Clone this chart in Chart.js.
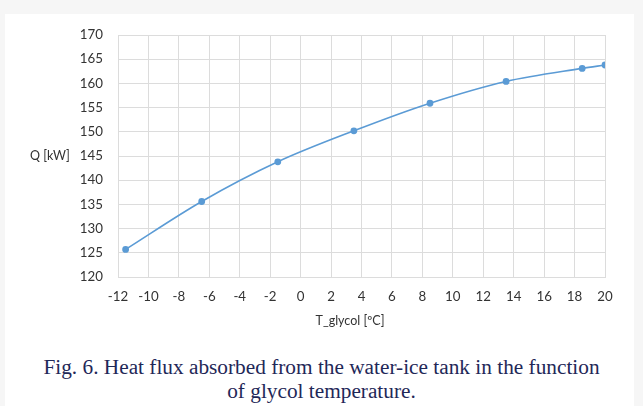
<!DOCTYPE html>
<html>
<head>
<meta charset="utf-8">
<script src="https://cdn.jsdelivr.net/npm/chart.js@4/dist/chart.umd.min.js"></script>
<style>
  body { margin: 0; width: 643px; height: 406px; background: #f6f6f6; overflow: hidden; position: relative; }
  #panel { position: absolute; left: 5px; top: 14px; width: 629px; height: 392px; background: #fff; }
  #chart { position: absolute; left: 0; top: 0; }
  .axt { position: absolute; font-family: Lato, sans-serif; color: #333; white-space: nowrap; }
  #ytitle { left: 30px; top: 148px; font-size: 12.5px; }
  #xtitle { left: 0; width: 700px; top: 313px; font-size: 12.5px; text-align: center; }
  #caption { position: absolute; left: 0; width: 643px; top: 355px; text-align: center;
    font-family: "Liberation Serif", "Times New Roman", serif; font-size: 21.3px; line-height: 24px; color: #1f2858; }
</style>
</head>
<body>
<div id="panel"></div>
<canvas id="chart" width="643" height="340"></canvas>
<div class="axt" id="ytitle">Q [kW]</div>
<div class="axt" id="xtitle">T_glycol [ºC]</div>
<div id="caption">Fig. 6. Heat flux absorbed from the water-ice tank in the function<br>of glycol temperature.</div>
<script>
var tGlycol = [-11.5, -6.5, -1.5, 3.5, 8.5, 13.5, 18.5, 20];
var heatQ = [125.7, 135.6, 143.8, 150.2, 155.9, 160.4, 163.1, 163.8];
var xRange = [-12, 20, 2];
var yRange = [120, 170, 5];

var points = [];
for (var i = 0; i < tGlycol.length; i++) {
	points.push({x: tGlycol[i], y: heatQ[i]});
}

var gridColor = '#dcdcdc';
var tickFont = {family: 'Lato', size: 13.3};

new Chart(document.getElementById('chart'), {
	type: 'scatter',
	data: {
		datasets: [{
			label: 'Q',
			data: points,
			showLine: true,
			borderColor: '#5b9bd5',
			backgroundColor: '#5b9bd5',
			borderWidth: 1.6,
			pointRadius: 2.6,
			pointHoverRadius: 3,
			cubicInterpolationMode: 'monotone'
		}]
	},
	options: {
		responsive: false,
		animation: false,
		devicePixelRatio: 1,
		layout: {padding: {left: 0, top: 35, right: 38, bottom: 0}},
		plugins: {legend: {display: false}, tooltip: {enabled: false}},
		scales: {
			x: {
				type: 'linear',
				min: xRange[0], max: xRange[1],
				ticks: {stepSize: xRange[2], autoSkip: false, color: '#333', font: tickFont, padding: 12, maxRotation: 0},
				grid: {color: gridColor, drawTicks: false},
				border: {color: gridColor},
				afterFit: function(s) { s.height = 63; }
			},
			y: {
				min: yRange[0], max: yRange[1],
				ticks: {stepSize: yRange[2], autoSkip: false, color: '#333', font: tickFont, padding: 15},
				grid: {color: gridColor, drawTicks: false},
				border: {color: gridColor},
				afterFit: function(s) { s.width = 118; }
			}
		}
	}
});
</script>
</body>
</html>
